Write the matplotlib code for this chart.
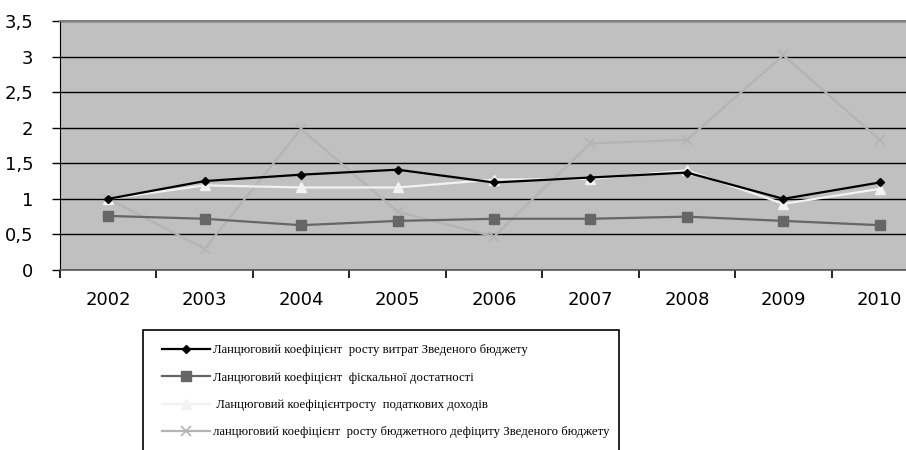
import matplotlib.pyplot as plt
from matplotlib.patches import Rectangle
from matplotlib.ticker import FuncFormatter, MultipleLocator

years = ['2002', '2003', '2004', '2005', '2006', '2007', '2008', '2009', '2010']

expenses = [1.00, 1.25, 1.34, 1.41, 1.23, 1.30, 1.37, 1.00, 1.23]
fiscal = [0.76, 0.72, 0.63, 0.69, 0.72, 0.72, 0.75, 0.69, 0.63]
tax_income = [1.00, 1.19, 1.16, 1.16, 1.27, 1.28, 1.40, 0.93, 1.14]
deficit = [1.00, 0.30, 1.98, 0.82, 0.47, 1.78, 1.83, 3.02, 1.83]

labels = [
    'Ланцюговий коефіцієнт  росту витрат Зведеного бюджету',
    'Ланцюговий коефіцієнт  фіскальної достатності',
    ' Ланцюговий коефіцієнтросту  податкових доходів',
    'ланцюговий коефіцієнт  росту бюджетного дефіциту Зведеного бюджету',
]

W, H = 906, 450
fig = plt.figure(figsize=(W / 100, H / 100), dpi=100)
fig.patch.set_facecolor('white')

# plot area runs past the right edge of the canvas
left, right, top, bottom = 60, 928, 21, 270
ax = fig.add_axes([left / W, 1 - bottom / H, (right - left) / W, (bottom - top) / H])
ax.set_facecolor('#c0c0c0')

x = list(range(len(years)))
ax.plot(x, deficit, color='#b4b4b4', lw=1.6, marker='x', ms=7, mew=1.2, label=labels[3], zorder=3)
ax.plot(x, fiscal, color='#666666', lw=1.6, marker='s', ms=7, label=labels[1], zorder=4)
ax.plot(x, tax_income, color='#f2f2f2', lw=1.6, marker='^', ms=7, label=labels[2], zorder=5)
ax.plot(x, expenses, color='black', lw=1.6, marker='D', ms=4.5, label=labels[0], zorder=6)

ax.set_xlim(-0.5, len(years) - 0.5)
ax.set_ylim(0, 3.5)
ax.yaxis.set_major_locator(MultipleLocator(0.5))
ax.yaxis.set_major_formatter(FuncFormatter(lambda v, p: f'{v:g}'.replace('.', ',')))
ax.grid(axis='y', color='black', lw=1)
ax.set_axisbelow(True)

ax.set_xticks([i + 0.5 for i in range(-1, len(years))])
ax.set_xticklabels([])
ax.set_xticks(x, minor=True)
ax.set_xticklabels(years, minor=True)
ax.tick_params(axis='x', which='major', length=6, width=1.2, direction='out', color='black')
ax.tick_params(axis='x', which='minor', length=0, pad=15, labelsize=13)
ax.tick_params(axis='y', length=6, width=1, pad=13, labelsize=13)
for t in ax.get_xticklabels(minor=True) + ax.get_yticklabels():
    t.set_fontfamily('DejaVu Sans')

ax.spines['top'].set_color('#808080')
ax.spines['top'].set_linewidth(1.5)
ax.spines['bottom'].set_color('#555555')
ax.spines['bottom'].set_linewidth(1.2)
ax.spines['left'].set_color('black')
ax.spines['right'].set_visible(False)

# legend box, cut off by the bottom edge
fig.patches.append(Rectangle((143 / W, 1 - 470 / H), (619 - 143) / W, (470 - 330) / H,
                             transform=fig.transFigure, facecolor='white',
                             edgecolor='black', lw=1.2, zorder=1))
handles, names = ax.get_legend_handles_labels()
order = [labels.index(n) for n in names]
pairs = sorted(zip(order, handles, names))
leg = fig.legend([p[1] for p in pairs], [p[2] for p in pairs],
                 loc='upper left', bbox_to_anchor=(150 / W, 1 - 333 / H),
                 frameon=False, handlelength=3.8, handletextpad=0.2,
                 labelspacing=1.2, prop={'family': 'Liberation Serif', 'size': 9.2})
leg.set_zorder(2)

fig.savefig('out.png', dpi=100)
